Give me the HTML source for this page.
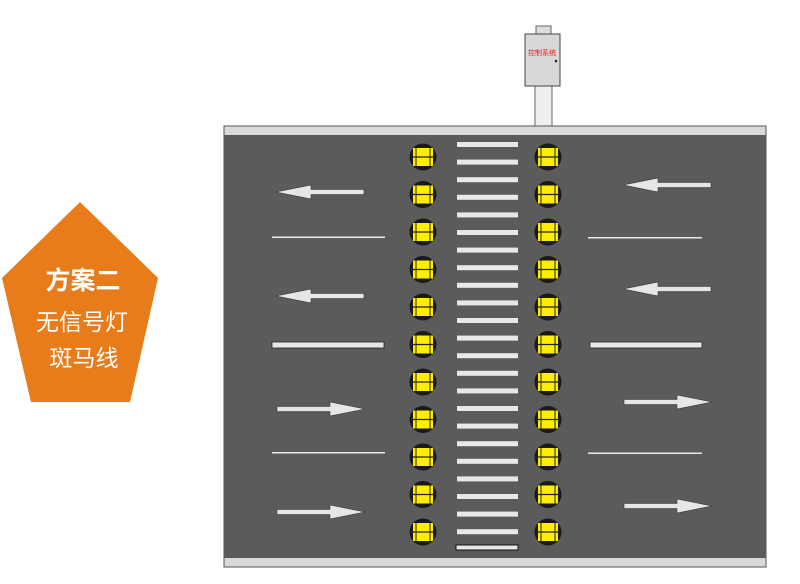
<!DOCTYPE html>
<html><head><meta charset="utf-8"><style>
html,body{margin:0;padding:0;background:#fff;}
svg{display:block;}
</style></head><body>
<svg width="800" height="584" viewBox="0 0 800 584" xmlns="http://www.w3.org/2000/svg">
<defs>
<g id="lt">
<circle r="13.5" fill="#1a1a1a"/>
<rect x="-10" y="-9" width="20" height="8.5" fill="#ffee00"/>
<rect x="-10" y="0.5" width="20" height="8.5" fill="#ffee00"/>
<line x1="-13" y1="0" x2="13" y2="0" stroke="#222" stroke-width="1.2"/>
<line x1="-7" y1="-10" x2="-7" y2="10" stroke="#222" stroke-width="1"/>
<line x1="7" y1="-10" x2="7" y2="10" stroke="#222" stroke-width="1"/>
</g>
<g id="la"><polygon points="0,0 35,-7 35,-2.5 88,-2.5 88,2.5 35,2.5 35,7" fill="#e6e6e6" stroke="#333" stroke-width="0.6"/></g>
</defs>
<polygon points="80,202 158,278 130,402 31,402 2,278" fill="#e87b1a"/>
<text x="83" y="289" text-anchor="middle" font-family="Liberation Sans,'Noto Sans CJK SC',sans-serif" font-size="25" font-weight="bold" fill="#fff">方案二</text>
<text x="82" y="330" text-anchor="middle" font-family="Liberation Sans,'Noto Sans CJK SC',sans-serif" font-size="23" fill="#fff">无信号灯</text>
<text x="84" y="366" text-anchor="middle" font-family="Liberation Sans,'Noto Sans CJK SC',sans-serif" font-size="23" fill="#fff">斑马线</text>
<rect x="536" y="26" width="15" height="9" fill="#ddd" stroke="#444" stroke-width="0.8"/>
<rect x="535" y="84" width="17" height="44" fill="#eee" stroke="#444" stroke-width="0.8"/>
<rect x="525" y="34" width="35" height="52" fill="#d8d8d8" stroke="#444" stroke-width="1"/>
<text x="542" y="55" text-anchor="middle" font-family="Liberation Sans,'Noto Sans CJK SC',sans-serif" font-size="7" fill="#e02020">控制系统</text>
<circle cx="556" cy="61" r="1.3" fill="#222"/>
<rect x="224" y="126" width="542" height="441" fill="#d9d9d9" stroke="#555" stroke-width="1"/>
<rect x="224" y="135" width="542" height="423" fill="#5b5b5b"/>
<g fill="#e8e8e8">
<rect x="457" y="142" width="61" height="5"/><rect x="457" y="159.6" width="61" height="5"/>
<rect x="457" y="177.2" width="61" height="5"/><rect x="457" y="194.8" width="61" height="5"/>
<rect x="457" y="212.4" width="61" height="5"/><rect x="457" y="230" width="61" height="5"/>
<rect x="457" y="247.6" width="61" height="5"/><rect x="457" y="265.2" width="61" height="5"/>
<rect x="457" y="282.8" width="61" height="5"/><rect x="457" y="300.4" width="61" height="5"/>
<rect x="457" y="318" width="61" height="5"/><rect x="457" y="335.6" width="61" height="5"/>
<rect x="457" y="353.2" width="61" height="5"/><rect x="457" y="370.8" width="61" height="5"/>
<rect x="457" y="388.4" width="61" height="5"/><rect x="457" y="406" width="61" height="5"/>
<rect x="457" y="423.6" width="61" height="5"/><rect x="457" y="441.2" width="61" height="5"/>
<rect x="457" y="458.8" width="61" height="5"/><rect x="457" y="476.4" width="61" height="5"/>
<rect x="457" y="494" width="61" height="5"/><rect x="457" y="511.6" width="61" height="5"/>
<rect x="457" y="529.2" width="61" height="5"/>
<rect x="456" y="545" width="62" height="5" stroke="#111" stroke-width="1"/>
</g>
<g>
<use href="#lt" x="423" y="157"/><use href="#lt" x="423" y="194.5"/><use href="#lt" x="423" y="232"/><use href="#lt" x="423" y="269.5"/><use href="#lt" x="423" y="307"/><use href="#lt" x="423" y="344.5"/><use href="#lt" x="423" y="382"/><use href="#lt" x="423" y="419.5"/><use href="#lt" x="423" y="457"/><use href="#lt" x="423" y="494.5"/><use href="#lt" x="423" y="532"/>
<use href="#lt" x="548" y="157"/><use href="#lt" x="548" y="194.5"/><use href="#lt" x="548" y="232"/><use href="#lt" x="548" y="269.5"/><use href="#lt" x="548" y="307"/><use href="#lt" x="548" y="344.5"/><use href="#lt" x="548" y="382"/><use href="#lt" x="548" y="419.5"/><use href="#lt" x="548" y="457"/><use href="#lt" x="548" y="494.5"/><use href="#lt" x="548" y="532"/>
</g>
<g fill="#e8e8e8">
<rect x="272" y="236.5" width="113" height="1.5"/>
<rect x="272" y="452" width="113" height="1.5"/>
<rect x="588" y="237" width="114" height="1.5"/>
<rect x="588" y="452.5" width="114" height="1.5"/>
<rect x="272" y="342" width="112" height="6" stroke="#222" stroke-width="0.8"/>
<rect x="590" y="342" width="112" height="6" stroke="#222" stroke-width="0.8"/>
</g>
<use href="#la" x="276" y="192"/>
<use href="#la" x="276" y="296"/>
<use href="#la" x="623" y="185"/>
<use href="#la" x="623" y="289"/>
<use href="#la" transform="translate(365,409) scale(-1,1)"/>
<use href="#la" transform="translate(365,512) scale(-1,1)"/>
<use href="#la" transform="translate(712,402) scale(-1,1)"/>
<use href="#la" transform="translate(712,506) scale(-1,1)"/>
</svg>
</body></html>
